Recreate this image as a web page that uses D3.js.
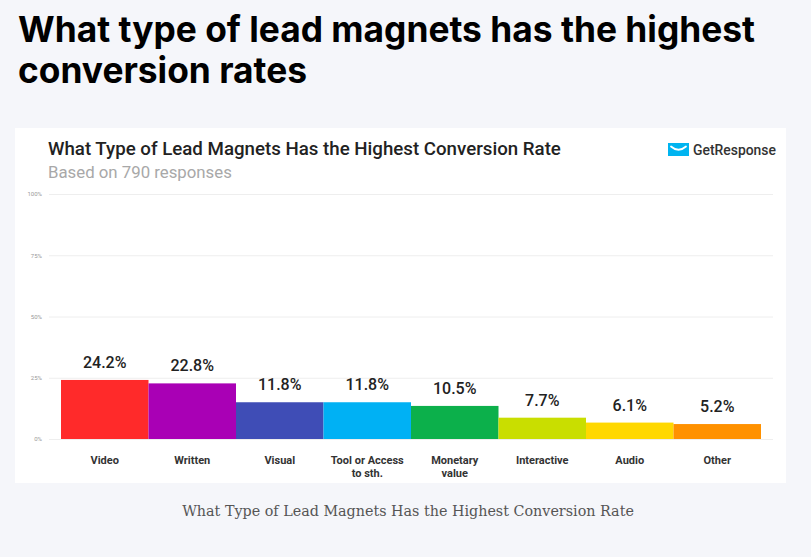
<!DOCTYPE html>
<html>
<head>
<meta charset="utf-8">
<script src="https://cdn.jsdelivr.net/npm/d3@7"></script>
<style>
  html, body { margin: 0; padding: 0; background: #f5f6fa; }
  svg { display: block; }
</style>
</head>
<body>
<svg id="chart" width="811" height="557"></svg>
<script>
// ---- data ----
const categories = ["Video", "Written", "Visual", "Tool or Access|to sth.", "Monetary|value", "Interactive", "Audio", "Other"];
// bar heights as drawn in the picture (percent of axis)
const barValues = [24.1, 22.7, 15.0, 15.0, 13.5, 8.7, 6.7, 6.1];
// value labels as printed above bars
const valueLabels = ["24.2%", "22.8%", "11.8%", "11.8%", "10.5%", "7.7%", "6.1%", "5.2%"];
const barColors = ["#ff2a2a", "#a900b5", "#3f4db6", "#00b1f4", "#0cb04b", "#c9de00", "#ffd800", "#ff9100"];
const tickValues = [0, 25, 50, 75, 100];
const headingLines = ["What type of lead magnets has the highest", "conversion rates"];
const chartTitle = "What Type of Lead Magnets Has the Highest Conversion Rate";
const chartSubtitle = "Based on 790 responses";
const brandName = "GetResponse";
const caption = "What Type of Lead Magnets Has the Highest Conversion Rate";

const svg = d3.select("#chart");

function fitWidth(sel, target) {
  const node = sel.node();
  const fs = parseFloat(sel.attr("font-size"));
  const w = node.getComputedTextLength();
  sel.attr("font-size", (fs * target / w).toFixed(2));
}

// ---- page heading ----
headingLines.forEach((t, i) => {
  const s = svg.append("text")
    .attr("x", 18).attr("y", 42 + i * 41)
    .attr("font-family", "Inter, 'Open Sans', sans-serif")
    .attr("font-weight", 700).attr("font-size", 34)
    .attr("fill", "#000").text(t);
  if (i === 0) fitWidth(s, 737);
  else s.attr("font-size", svg.select("text").attr("font-size"));
});

// ---- chart card ----
svg.append("rect").attr("x", 15).attr("y", 128).attr("width", 771).attr("height", 355).attr("fill", "#ffffff");

const ct = svg.append("text").attr("x", 48).attr("y", 155)
  .attr("font-family", "Roboto, sans-serif").attr("font-weight", 500)
  .attr("font-size", 19).attr("fill", "#222").text(chartTitle);
fitWidth(ct, 513);

const st = svg.append("text").attr("x", 48).attr("y", 178)
  .attr("font-family", "Roboto, sans-serif").attr("font-weight", 400)
  .attr("font-size", 16).attr("fill", "#a8a8a8").text(chartSubtitle);
fitWidth(st, 184);

// logo
const logo = svg.append("g");
logo.append("rect").attr("x", 668).attr("y", 143).attr("width", 21).attr("height", 13).attr("fill", "#00b4f0");
logo.append("path").attr("d", "M671,146.5 Q678.5,153 686,146.5").attr("fill", "none").attr("stroke", "#ffffff").attr("stroke-width", 1.8).attr("stroke-linecap", "round");
const bt = logo.append("text").attr("x", 693).attr("y", 155)
  .attr("font-family", "Roboto, sans-serif").attr("font-weight", 500)
  .attr("font-size", 14).attr("fill", "#333").text(brandName);
fitWidth(bt, 83);

// ---- scales ----
const x = d3.scaleBand().domain(categories).range([61, 761]).padding(0);
const y = d3.scaleLinear().domain([0, 100]).range([439, 194]);

// grid + axis
const axis = d3.axisLeft(y).tickValues(tickValues).tickFormat(d => d + "%")
  .tickSize(-(773 - 49)).tickPadding(7);
const ag = svg.append("g").attr("transform", "translate(49,0)").call(axis);
ag.select(".domain").remove();
ag.selectAll(".tick line").attr("stroke", "#eeeeee").attr("stroke-width", 1);
ag.selectAll(".tick text").attr("font-family", "Roboto, sans-serif").attr("font-size", 6).attr("fill", "#999");

// bars
svg.append("g").selectAll("rect").data(categories).join("rect")
  .attr("x", d => x(d))
  .attr("y", (d, i) => y(barValues[i]))
  .attr("width", x.bandwidth())
  .attr("height", (d, i) => y(0) - y(barValues[i]))
  .attr("fill", (d, i) => barColors[i]);

// value labels
svg.append("g").selectAll("text").data(categories).join("text")
  .attr("x", d => x(d) + x.bandwidth() / 2)
  .attr("y", (d, i) => y(barValues[i]) - 12)
  .attr("text-anchor", "middle")
  .attr("font-family", "Roboto, sans-serif").attr("font-weight", 500)
  .attr("font-size", 16).attr("fill", "#222")
  .text((d, i) => valueLabels[i]);

// category labels
const cl = svg.append("g").selectAll("text").data(categories).join("text")
  .attr("x", d => x(d) + x.bandwidth() / 2)
  .attr("y", 464)
  .attr("text-anchor", "middle")
  .attr("font-family", "Roboto, sans-serif").attr("font-weight", 700)
  .attr("font-size", 11).attr("fill", "#333");
cl.each(function(d) {
  const parts = d.split("|");
  d3.select(this).selectAll("tspan").data(parts).join("tspan")
    .attr("x", x(d) + x.bandwidth() / 2)
    .attr("dy", (p, j) => j === 0 ? 0 : 13)
    .text(p => p);
});

// ---- caption ----
const cap = svg.append("text").attr("x", 408).attr("y", 516).attr("text-anchor", "middle")
  .attr("font-family", "'DejaVu Serif', 'Liberation Serif', serif")
  .attr("font-size", 14).attr("fill", "#555").text(caption);
fitWidth(cap, 452);
</script>
</body>
</html>
